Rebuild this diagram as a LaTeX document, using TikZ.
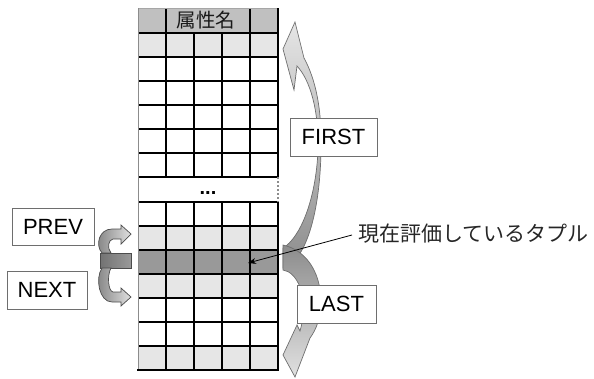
\documentclass[tikz,border=0pt]{standalone}
\usepackage{fontspec}
\setmainfont{Liberation Sans}
\newfontfamily\cjk{Noto Sans CJK JP}
\usetikzlibrary{arrows.meta}
\definecolor{hdr}{HTML}{C0C0C0}
\definecolor{lgt}{HTML}{E6E6E6}
\definecolor{drk}{HTML}{999999}
\definecolor{edge}{HTML}{6E6E6E}
\tikzset{
  lbl/.style={draw=edge, line width=0.8pt, fill=white, font=\fontsize{22}{24}\selectfont, inner sep=0pt},
  gridline/.style={line width=1.4pt, black},
  bigarrow/.style={draw=edge, line width=0.7pt},
  smallarrow/.style={draw=black!70, line width=0.7pt, left color=black!50, right color=black!12},
}
\begin{document}
\begin{tikzpicture}[x=1pt,y=-1pt]
\useasboundingbox (0,0) rectangle (594,378);
% row fills
\fill[hdr] (138,8) rectangle (278,33);
\fill[lgt] (138,33) rectangle (278,57);
\fill[lgt] (138,226) rectangle (278,250);
\fill[drk] (138,250) rectangle (278,274);
\fill[lgt] (138,274) rectangle (278,298);
\fill[lgt] (138,346) rectangle (278,370);
% grid
\foreach \y in {33,57,...,177} \draw[gridline] (138,\y) -- (278,\y);
\foreach \y in {202,226,...,346} \draw[gridline] (138,\y) -- (278,\y);
\foreach \x in {166,194,222,250} {
  \draw[gridline] (\x,33) -- (\x,177);
  \draw[gridline] (\x,202) -- (\x,370);
}
\draw[gridline] (166,8) -- (166,33);
\draw[gridline] (250,8) -- (250,33);
\draw[black!35, line width=0.8pt] (138,8) -- (278,8);
\draw[black!45, line width=0.8pt] (138,8) -- (138,370);
\draw[line width=2.4pt] (278,8) -- (278,177);
\draw[line width=2.4pt] (278,202) -- (278,370);
\draw[line width=2.4pt, black!45, dash pattern=on 2pt off 2pt] (278,177) -- (278,202);
\draw[line width=2.4pt] (137,370) -- (279.2,370);
% header and ellipsis
\node[font=\cjk\fontsize{19.5}{21}\selectfont, text=black!90, inner sep=0pt] (hdrtext) at (206,20) {属性名};
\node[font=\bfseries\fontsize{20}{22}\selectfont, inner sep=0pt, anchor=base] (dots) at (208,194) {...};
% FIRST arrow
\path[bigarrow, top color=black!10, bottom color=black!45]
  (283,248) .. controls (300,238) and (316,200) .. (318,150)
  .. controls (319,110) and (310,80) .. (297,66)
  -- (294,90) -- (283,49) -- (295,22) -- (304,58)
  .. controls (316,80) and (322,110) .. (321,150)
  .. controls (320,215) and (305,262) .. (283,268) -- cycle;
% LAST arrow
\path[bigarrow, top color=black!45, bottom color=black!12]
  (283,245) .. controls (305,250) and (320,270) .. (321,300)
  .. controls (321,318) and (316,330) .. (310,338)
  -- (295,377) -- (283,355) -- (297,325) -- (300,331)
  .. controls (304,318) and (305,300) .. (300,287)
  .. controls (296,277) and (290,271) .. (283,270) -- cycle;
% PREV / NEXT curls
\path[draw=black!70, line width=0.6pt, left color=black!55, right color=black!40] (100,253) rectangle (131,268);
\path[smallarrow]
  (102,253) .. controls (95,245) and (99,229) .. (112,229) -- (121,229)
  -- (121,225) -- (131,234) -- (121,244) -- (121,239) -- (113,239)
  .. controls (108,240) and (107,248) .. (111,253) -- cycle;
\path[smallarrow]
  (102,268) .. controls (95,278) and (99,302) .. (112,302) -- (121,302)
  -- (121,306) -- (131,297) -- (121,288) -- (121,292) -- (113,292)
  .. controls (108,291) and (107,275) .. (111,268) -- cycle;
% labels
\node[lbl, minimum width=82pt, minimum height=37pt] (prev) at (53,226.5) {PREV};
\node[lbl, minimum width=80pt, minimum height=38pt] (next) at (47,290) {NEXT};
\node[lbl, minimum width=87pt, minimum height=38pt] (first) at (333.5,137) {FIRST};
\node[lbl, minimum width=79pt, minimum height=38pt] (last) at (336.5,304) {LAST};
% current tuple pointer
\coordinate (cur) at (248,263);
\node[font=\cjk\fontsize{21}{23}\selectfont, text=black!85, inner sep=0pt, anchor=west] (curlabel) at (358,234) {現在評価しているタプル};
\draw[-{Stealth[length=8pt,width=6pt]}, line width=0.8pt] (352,235) -- (cur);
\end{tikzpicture}
\end{document}
